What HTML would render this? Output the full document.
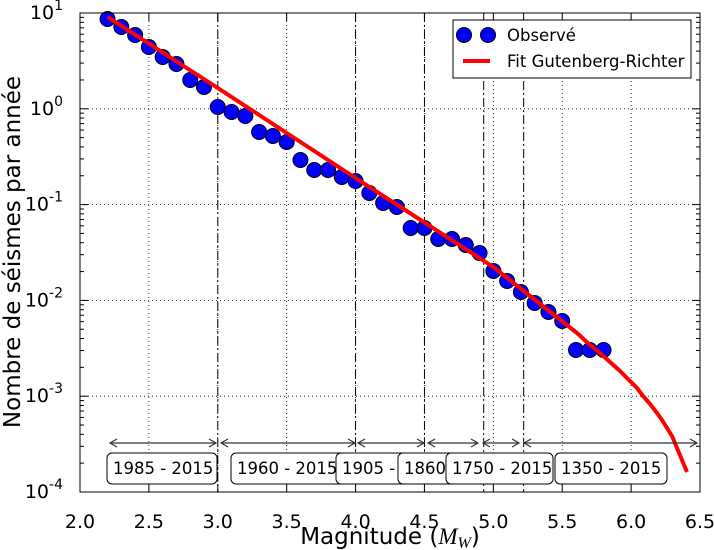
<!DOCTYPE html>
<html><head><meta charset="utf-8"><style>
body{margin:0;background:#fff}
svg{display:block;font-family:"DejaVu Sans","Liberation Sans",sans-serif}
</style></head><body>
<svg id="s" width="714" height="550" xmlns="http://www.w3.org/2000/svg">
<rect width="714" height="550" fill="#fff"/>
<g id="grid" stroke="#000" stroke-width="0.8" stroke-dasharray="1,3"></g>
<g id="vl" stroke="#000" stroke-width="1" stroke-dasharray="9,3,2,3" fill="none"></g>
<g id="pts" fill="#00f" stroke="#000" stroke-width="1"></g>
<polyline id="fit" fill="none" stroke="#f00" stroke-width="4" stroke-linejoin="round"/>
<g id="arr" stroke="#333" stroke-width="1.2" fill="none"></g>
<g id="box" font-size="16.5"></g>
<rect x="80" y="13" width="620" height="479" fill="none" stroke="#000" stroke-width="1"/>
<g id="ticks" stroke="#000" stroke-width="1"></g>
<g id="lab" font-size="19"></g>
<text x="390" y="544" font-size="23" text-anchor="middle">Magnitude (<tspan font-family="Liberation Serif" font-style="italic">M</tspan><tspan font-family="Liberation Serif" font-style="italic" font-size="16" dy="4">W</tspan><tspan dy="-4">)</tspan></text>
<text transform="translate(20,252) rotate(-90)" font-size="23" text-anchor="middle">Nombre de séismes par année</text>
<rect x="453" y="20" width="238" height="58" fill="#fff" stroke="#000" stroke-width="1"/>
<circle cx="464" cy="35" r="7.5" fill="#00f" stroke="#000"/>
<circle cx="488" cy="35" r="7.5" fill="#00f" stroke="#000"/>
<line x1="463" y1="61" x2="490" y2="61" stroke="#f00" stroke-width="4"/>
<text x="507" y="41" font-size="16.5">Observé</text>
<text x="507" y="67" font-size="16.5">Fit Gutenberg-Richter</text>
</svg>
<script>
const NS="http://www.w3.org/2000/svg";
function el(p,t,a,txt){const e=document.createElementNS(NS,t);for(const k in a)e.setAttribute(k,a[k]);if(txt!=null)e.textContent=txt;document.getElementById(p).appendChild(e);return e;}
const X=m=>80+(m-2)*137.78;
const Y=v=>13+(1-Math.log10(v))*95.8;
for(let m=2.5;m<6.5;m+=0.5)el('grid','line',{x1:X(m),x2:X(m),y1:13,y2:492});
for(let d=0;d>-4;d--)el('grid','line',{x1:80,x2:700,y1:Y(Math.pow(10,d)),y2:Y(Math.pow(10,d))});
for(let m=2;m<=6.5001;m+=0.5){const x=X(m);el('ticks','line',{x1:x,x2:x,y1:492,y2:484});el('ticks','line',{x1:x,x2:x,y1:13,y2:21});
el('lab','text',{x:x,y:528,'text-anchor':'middle'},m.toFixed(1));}
for(let d=1;d>=-4;d--){const y=Y(Math.pow(10,d));
el('ticks','line',{x1:80,x2:88,y1:y,y2:y});el('ticks','line',{x1:700,x2:692,y1:y,y2:y});
const t=el('lab','text',{x:63,y:y+6,'text-anchor':'end'},'10');
const s=document.createElementNS(NS,'tspan');s.setAttribute('dy','-9');s.setAttribute('font-size','14');s.textContent=String(d);t.appendChild(s);
if(d>-4)for(let k=2;k<=9;k++){const yy=Y(k*Math.pow(10,d-1));el('ticks','line',{x1:80,x2:84,y1:yy,y2:yy});el('ticks','line',{x1:700,x2:696,y1:yy,y2:yy});}}
[3.0,4.0,4.5,4.93,5.22].forEach(m=>el('vl','line',{x1:X(m),x2:X(m),y1:13,y2:492}));
const fp=[[X(2.2),17],[X(3),88],[X(4),178],[X(5),267],[563,322],[577,333],[590,345],[600,353],[610,362],[620,371],[630,381],[637,388],[643,396],[650,404],[657,413],[662,420],[667,428],[672,436],[677,448],[682,460],[687,472]];
document.getElementById('fit').setAttribute('points',fp.map(p=>p[0]+','+p[1]).join(' '));
const py=[19,27,35,47,57,64,80,87,107,112,116,132,136,142,160,170,170,177,181,193,203,207,228,228,239,239,245,253,271,281,292,303,312,321,350,350,350];
py.forEach((y,i)=>el('pts','circle',{cx:X(2.2+i*0.1),cy:y,r:7.5}));
[[110,216],[221,355],[358,424],[428,478],[483,519],[524,697]].forEach(a=>{
el('arr','line',{x1:a[0],x2:a[1],y1:443,y2:443});
el('arr','polyline',{points:`${a[0]+7},439 ${a[0]},443 ${a[0]+7},447`});
el('arr','polyline',{points:`${a[1]-7},439 ${a[1]},443 ${a[1]-7},447`});});
[[107,217,'1985 - 2015'],[231,360,'1960 - 2015'],[336,420,'1905 - 2015'],[398,470,'1860 - 2015'],[446,553,'1750 - 2015'],[555,667,'1350 - 2015']].forEach(b=>{
el('box','rect',{x:b[0],y:453,width:b[1]-b[0],height:31,rx:5,fill:'#fff',stroke:'#000','stroke-width':1});
const cp='c'+b[0];const c=el('box','clipPath',{id:cp});const r=document.createElementNS(NS,'rect');r.setAttribute('x',b[0]);r.setAttribute('y',453);r.setAttribute('width',b[1]-b[0]);r.setAttribute('height',31);c.appendChild(r);
el('box','text',{x:b[0]+6,y:474,'clip-path':`url(#${cp})`},b[2]);});
</script>
</body></html>
